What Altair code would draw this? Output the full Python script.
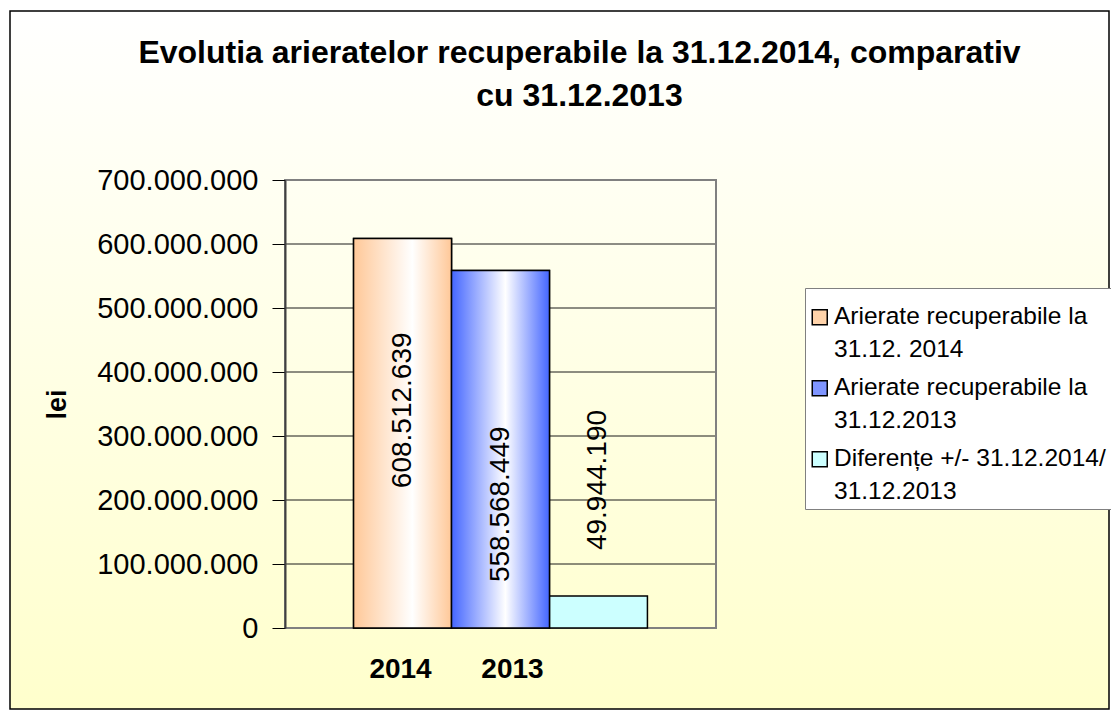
import altair as alt
import pandas as pd

# ---------------- data ----------------
series = [
    "Arierate recuperabile la\n31.12. 2014",
    "Arierate recuperabile la\n31.12.2013",
    "Diferențe +/- 31.12.2014/\n31.12.2013",
]
keys = ["2014", "2013", "dif"]
values = [608512639, 558568449, 49944190]
y_ticks = [0, 100000000, 200000000, 300000000, 400000000, 500000000, 600000000, 700000000]
title_lines = ["Evolutia arieratelor recuperabile la 31.12.2014, comparativ", "cu 31.12.2013"]
y_title = "lei"

df = pd.DataFrame({"series": series, "key": keys, "value": values})
ticks_df = pd.DataFrame({"tick": y_ticks})

FONT = "Liberation Sans"
fmt = "replace(format({v}, ',d'), regexp(',', 'g'), '.')"

legend_colors = ["#FFD3AA", "#7F95FF", "#CCFFFF"]
label_offsets = [-23, 55, -132]

x_scale = alt.Scale(domain=keys, paddingInner=0, paddingOuter=0.7)
y_scale = alt.Scale(domain=[0, 700000000], nice=False)

x_axis = alt.Axis(
    title=None,
    labelExpr="datum.value == 'dif' ? '' : datum.label",
    labelFont=FONT, labelFontSize=28, labelFontWeight="bold", labelColor="black",
    labelPadding=27, ticks=False, domain=False, labelAngle=0,
    labelOffset={"condition": {"test": "datum.value == '2013'", "value": 12}, "value": -2},
    zindex=1,
)
y_axis = alt.Axis(
    values=y_ticks,
    labelExpr=fmt.format(v="datum.value"),
    labelFont=FONT, labelFontSize=29, labelColor="black", labelPadding=14,
    tickSize=13, tickColor="black", tickWidth=1,
    domainColor="#404040", domainWidth=2, grid=False,
    title=y_title, titleFont=FONT, titleFontSize=27, titleFontWeight="bold",
    titleColor="black", titlePadding=25, zindex=1,
)

x_enc = alt.X("key:N", scale=x_scale, sort=keys, axis=x_axis)


def y_enc(field):
    return alt.Y(field, scale=y_scale, axis=y_axis)


def hgrad(edge, mid, pos):
    return alt.LinearGradient(
        gradient="linear",
        stops=[
            alt.GradientStop(color=edge, offset=0),
            alt.GradientStop(color=mid, offset=pos),
            alt.GradientStop(color=edge, offset=1),
        ],
        x1=0, x2=1, y1=0, y2=0,
    )


bg_grad = alt.LinearGradient(
    gradient="linear",
    stops=[
        alt.GradientStop(color="#FFFFFF", offset=0),
        alt.GradientStop(color="#FFFFCC", offset=1),
    ],
    x1=0, x2=0, y1=0, y2=1,
)

one = alt.Data(values=[{}])

bg = alt.Chart(one).mark_rect(fill=bg_grad, stroke="black", strokeWidth=1.5).encode(
    x=alt.value(-275), x2=alt.value(824), y=alt.value(-169), y2=alt.value(529)
)

grid = alt.Chart(ticks_df).mark_rule(color="#1a1a1a", strokeWidth=1).encode(
    y=y_enc("tick:Q")
)

border = alt.Chart(one).mark_rect(fillOpacity=0, stroke="#808080", strokeWidth=2).encode(
    x=alt.value(0), x2=alt.value("width"), y=alt.value(0), y2=alt.value("height")
)

base = alt.Chart(df)

bars = base.mark_bar(stroke="black", strokeWidth=1.5).encode(
    x=x_enc,
    y=y_enc("value:Q"),
    color=alt.Color(
        "series:N",
        scale=alt.Scale(domain=series, range=legend_colors),
        legend=alt.Legend(
            title=None, orient="none", legendX=520, legendY=108,
            fillColor="white", strokeColor="#808080", padding=5,
            symbolType="M-1,0.6H1V2.6H-1Z", symbolSize=225, symbolStrokeColor="black",
            symbolStrokeWidth=1.5, symbolOpacity=1, symbolOffset=-2.5,
            labelFont=FONT, labelFontSize=24.5, labelColor="black", labelLimit=400,
            labelBaseline="top", labelOffset=2, rowPadding=2,
            labelExpr="split(datum.label, '\\n')",
        ),
    ),
)

grads = [hgrad("#FFC898", "#FFFFFF", 0.6), hgrad("#4466FF", "#FFFFFF", 0.55)]
overlays = [
    base.transform_filter(alt.datum.key == keys[i])
    .mark_bar(fill=grads[i], stroke="black", strokeWidth=1.5)
    .encode(x=x_enc, y=y_enc("value:Q"))
    for i in range(2)
]

texts = [
    base.transform_filter(alt.datum.key == keys[i])
    .transform_calculate(half="datum.value / 2", label=fmt.format(v="datum.value"))
    .mark_text(angle=270, fontSize=28, font=FONT, align="center", baseline="middle",
               color="black", yOffset=label_offsets[i])
    .encode(x=x_enc, y=y_enc("half:Q"), text="label:N")
    for i in range(3)
]

chart = alt.layer(bg, grid, border, bars, *overlays, *texts).properties(
    width=431,
    height=448,
    autosize=alt.AutoSizeParams(type="none"),
    padding={"left": 277, "top": 172, "right": 395, "bottom": 85},
    background="white",
    title=alt.TitleParams(
        text=title_lines, font=FONT, fontSize=32, fontWeight="bold", color="black",
        anchor="middle", dx=79, offset=-103, lineHeight=43,
    ),
).configure(
    view=alt.ViewConfig(strokeWidth=0),
    style={"guide-label": {"lineHeight": 33}},
)

chart.save("out.html", embed_options={"renderer": "svg", "actions": False})
